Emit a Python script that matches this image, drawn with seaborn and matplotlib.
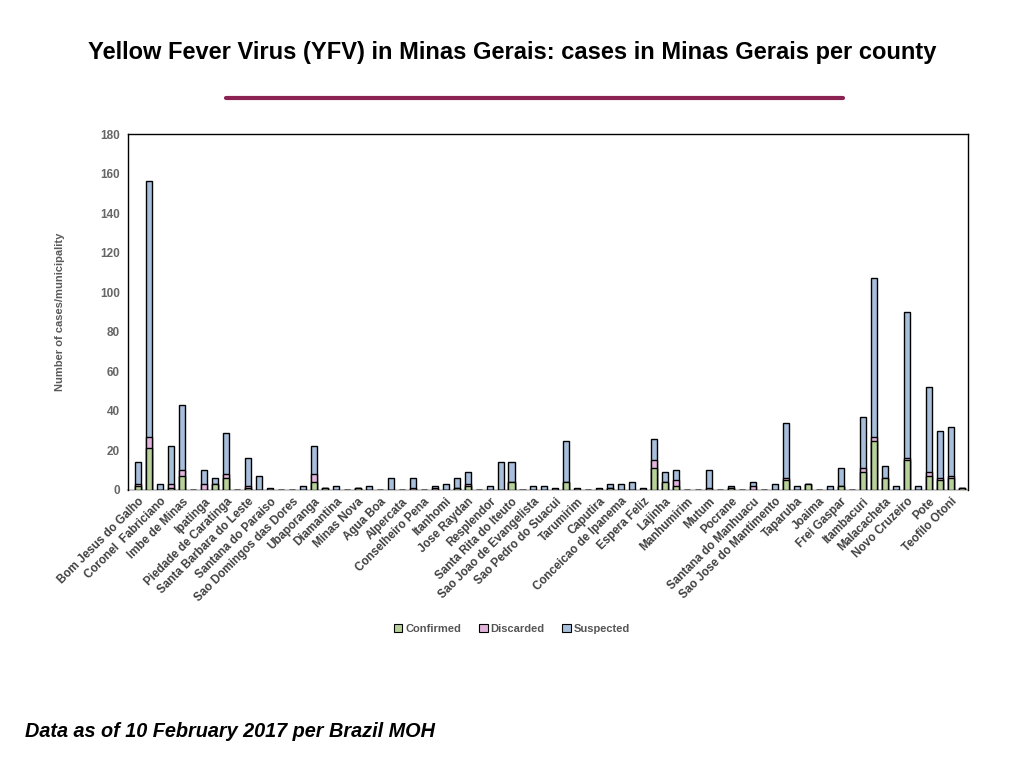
import matplotlib
matplotlib.use("Agg")
import matplotlib.pyplot as plt
import seaborn as sns
import pandas as pd
from matplotlib.lines import Line2D
from matplotlib.patches import Patch

# Tick labels (shown on every other county)
tick_labels = [
    "Bom Jesus do Galho", "Coronel  Fabriciano", "Imbe de Minas", "Ipatinga",
    "Piedade de Caratinga", "Santa Barbara do Leste", "Santana do Paraiso",
    "Sao Domingos das Dores", "Ubaporanga", "Diamantina", "Minas Nova", "Agua Boa",
    "Alpercata", "Conselheiro Pena", "Itanhomi", "Jose Raydan", "Resplendor",
    "Santa Rita do Iteuto", "Sao Joao de Evangelista", "Sao Pedro do Suacui",
    "Tarumirim", "Caputira", "Conceicao de Ipanema", "Espera Feliz", "Lajinha",
    "Manhumirim", "Mutum", "Pocrane", "Santana do Manhuacu", "Sao Jose do Mantimento",
    "Taparuba", "Joaima", "Frei Gaspar", "Itambacuri", "Malacacheta", "Novo Cruzeiro",
    "Pote", "Teofilo Otoni",
]

# Cases per county (76 counties, in chart order)
confirmed = [2, 21, 0, 1, 7, 0, 0, 3, 6, 0, 1, 0, 0, 0, 0, 0, 4, 1, 0, 0,
             1, 0, 0, 0, 0, 0, 0, 0, 0, 1, 2, 0, 0, 0, 4, 0, 0, 0, 0, 4,
             0, 0, 0, 1, 0, 0, 0, 11, 4, 2, 0, 0, 0, 0, 1, 0, 0, 0, 0, 5,
             0, 3, 0, 0, 2, 0, 9, 25, 6, 0, 15, 0, 7, 5, 6, 1]
discarded = [1, 6, 0, 2, 3, 0, 3, 0, 2, 0, 1, 0, 0, 0, 0, 0, 4, 0, 0, 0,
             0, 0, 0, 0, 0, 1, 0, 1, 0, 0, 1, 0, 0, 0, 0, 0, 0, 0, 0, 0,
             0, 0, 0, 0, 0, 0, 0, 4, 0, 3, 0, 0, 1, 0, 0, 0, 2, 0, 0, 1,
             0, 0, 0, 0, 0, 0, 2, 2, 0, 0, 1, 0, 2, 1, 1, 0]
suspected = [11, 129, 3, 19, 33, 0, 7, 3, 21, 0, 14, 7, 1, 0, 0, 2, 14, 0, 2, 0,
             0, 2, 0, 6, 0, 5, 0, 1, 3, 5, 6, 0, 2, 14, 10, 0, 2, 2, 1, 21,
             1, 0, 1, 2, 3, 4, 1, 11, 5, 5, 0, 0, 9, 0, 1, 0, 2, 0, 3, 28,
             2, 0, 0, 2, 9, 0, 26, 80, 6, 2, 74, 2, 43, 24, 25, 0]

series_names = ["Confirmed", "Discarded", "Suspected"]
series_colors = ["#b8d19a", "#e2b4dc", "#a8bfdc"]

sns.set_theme(style="white")
plt.rcParams['font.family'] = ['Liberation Sans', 'DejaVu Sans']

n = len(confirmed)
df = pd.DataFrame({"pos": list(range(n)), "C": confirmed, "D": discarded, "S": suspected})
df["CD"] = df["C"] + df["D"]
df["T"] = df["CD"] + df["S"]

fig = plt.figure(figsize=(10.24, 7.68), dpi=100)
ax = fig.add_axes([0.125, 0.362, 0.82, 0.4635])

for col, color in [("T", series_colors[2]), ("CD", series_colors[1]), ("C", series_colors[0])]:
    sns.barplot(data=df, x="pos", y=col, color=color, saturation=1, width=0.55,
                edgecolor="black", linewidth=1.0, errorbar=None, ax=ax, zorder=3)

ax.set_xlim(-0.94, 75.56)
ax.set_ylim(0, 180)
ax.set_yticks(range(0, 181, 20))
ax.set_xticks(list(range(0, n, 2)))
ax.set_xticklabels(tick_labels, rotation=45, ha="right", rotation_mode="anchor",
                   fontsize=8.4, fontweight="bold", color="#404040")
ax.tick_params(axis="x", length=0, pad=4)
ax.tick_params(axis="y", length=0, pad=6, labelsize=8.5, labelcolor="#666666")
for lab in ax.get_yticklabels():
    lab.set_fontweight("bold")
ax.set_xlabel("")
ax.set_ylabel("Number of cases/municipality", fontsize=8, fontweight="bold", color="#595959")
ax.yaxis.set_label_coords(-0.075, 0.5)
for side in ["left", "top", "right"]:
    ax.spines[side].set_color("black")
    ax.spines[side].set_linewidth(1.0)
ax.spines["bottom"].set_color("#c8c8c8")
ax.spines["bottom"].set_linewidth(1.5)
ax.spines["bottom"].set_zorder(1)
ax.grid(False)

handles = [Patch(facecolor=c, edgecolor="black", linewidth=0.8) for c in series_colors]
leg = fig.legend(handles, series_names, loc="center", bbox_to_anchor=(0.5, 0.181), ncol=3,
                 frameon=False, fontsize=8, handlelength=0.8, handleheight=0.8,
                 handletextpad=0.25, columnspacing=1.6)
for t in leg.get_texts():
    t.set_fontweight("bold")
    t.set_color("#555555")

fig.text(0.5, 0.932, "Yellow Fever Virus (YFV) in Minas Gerais: cases in Minas Gerais per county",
         ha="center", va="center", fontsize=17, fontweight="bold", color="black")
fig.add_artist(Line2D([0.2207, 0.823], [0.8724, 0.8724], transform=fig.transFigure,
                      color="#8b2252", linewidth=3.0))
fig.text(0.0244, 0.047, "Data as of 10 February 2017 per Brazil MOH", ha="left", va="center",
         fontsize=14.3, fontweight="bold", fontstyle="italic", color="black")

fig.savefig("out.png", dpi=100)
